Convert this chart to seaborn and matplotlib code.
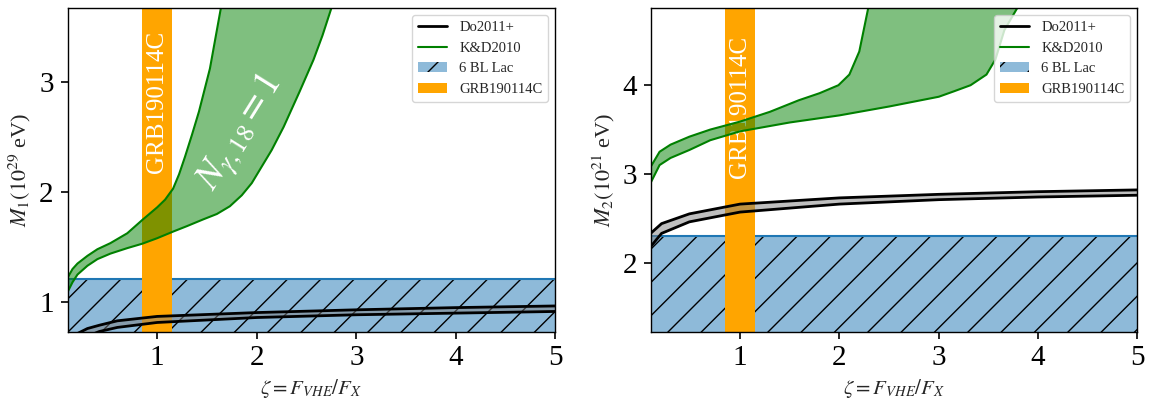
import matplotlib
matplotlib.use("Agg")
import matplotlib.pyplot as plt
from matplotlib.lines import Line2D
from matplotlib.patches import Patch
import numpy as np
import seaborn as sns

# ---- data ----
zeta_lim = [0.1, 5.0]
grb_zeta = [0.85, 1.15]

# panel 1 : M1 (10^29 eV)
m1_ylim = [0.733, 3.67]
m1_blac = 1.21
m1_kd_up_x = [0.1, 0.15, 0.2, 0.3, 0.4, 0.53, 0.7, 0.85, 1.0, 1.08, 1.16, 1.22, 1.28, 1.35,
              1.42, 1.53, 1.64]
m1_kd_up_y = [1.22, 1.30, 1.35, 1.42, 1.48, 1.535, 1.625, 1.745, 1.86, 1.93, 2.03, 2.16, 2.32, 2.52,
              2.73, 3.12, 3.67]
m1_kd_lo_x = [0.1, 0.15, 0.2, 0.3, 0.4, 0.53, 0.7, 0.85, 1.0, 1.16, 1.3, 1.46, 1.6, 1.73,
              1.85, 1.95, 2.03, 2.15, 2.27, 2.43, 2.57, 2.66, 2.75]
m1_kd_lo_y = [1.09, 1.18, 1.25, 1.33, 1.39, 1.44, 1.49, 1.53, 1.58, 1.64, 1.69, 1.75, 1.80, 1.87,
              1.97, 2.08, 2.20, 2.38, 2.59, 2.91, 3.20, 3.42, 3.67]
m1_do_x = [0.2, 0.3, 0.42, 0.6, 1.0, 2.0, 3.0, 4.0, 5.0]
m1_do_up = [0.715, 0.76, 0.79, 0.83, 0.87, 0.905, 0.93, 0.95, 0.965]
m1_do_lo = [0.66, 0.69, 0.733, 0.77, 0.815, 0.86, 0.885, 0.90, 0.915]

# panel 2 : M2 (10^21 eV)
m2_ylim = [1.224, 4.87]
m2_blac = 2.30
m2_kd_up_x = [0.1, 0.19, 0.3, 0.49, 0.7, 1.0, 1.3, 1.59, 1.8, 1.99, 2.1, 2.2, 2.29]
m2_kd_up_y = [3.08, 3.25, 3.33, 3.42, 3.50, 3.59, 3.70, 3.83, 3.91, 4.0, 4.12, 4.38, 4.87]
m2_kd_lo_x = [0.1, 0.19, 0.3, 0.49, 0.7, 1.0, 1.5, 2.0, 2.5, 3.0, 3.15, 3.32, 3.48, 3.57, 3.66, 3.79]
m2_kd_lo_y = [2.90, 3.10, 3.18, 3.27, 3.38, 3.48, 3.58, 3.66, 3.76, 3.87, 3.93, 4.0, 4.12, 4.29, 4.62, 4.87]
m2_do_x = [0.1, 0.21, 0.49, 1.0, 2.0, 3.0, 4.0, 5.0]
m2_do_up = [2.33, 2.44, 2.55, 2.66, 2.73, 2.77, 2.80, 2.82]
m2_do_lo = [2.18, 2.33, 2.46, 2.57, 2.66, 2.71, 2.74, 2.76]

sns.set_style("ticks", {"axes.edgecolor": "black", "xtick.color": "black",
                        "ytick.color": "black"})
plt.rcParams["font.family"] = ["Liberation Serif", "DejaVu Serif"]
plt.rcParams["mathtext.fontset"] = "stix"

blue = "#1f77b4"
blue_fill = (0.122, 0.467, 0.706, 0.5)


def draw_panel(ax, ylim, blac, kd_up, kd_lo, do_x, do_up, do_lo, grb_y, ylabel, note=False):
    # 6 BL Lac hatched band
    ax.axhspan(ylim[0] - 1, blac, facecolor=blue_fill, edgecolor="black",
               hatch="/", lw=0, zorder=1)
    ax.axhline(blac, color=blue, lw=1.5, zorder=1.5)

    # GRB190114C stripe
    ax.axvspan(grb_zeta[0], grb_zeta[1], color="orange", lw=0, zorder=2)
    ax.text(np.mean(grb_zeta), grb_y, "GRB190114C", color="white", rotation=90,
            ha="center", va="center", fontsize=18, zorder=3)

    # K&D2010 band
    px = np.concatenate([kd_up[0], kd_lo[0][::-1]])
    py = np.concatenate([kd_up[1], kd_lo[1][::-1]])
    ax.fill(px, py, color="green", alpha=0.5, lw=0, zorder=4)
    sns.lineplot(x=kd_up[0], y=kd_up[1], color="green", lw=1.5, ax=ax, zorder=4.5)
    sns.lineplot(x=kd_lo[0], y=kd_lo[1], color="green", lw=1.5, ax=ax, zorder=4.5)

    # Do2011+ band
    ax.fill_between(do_x, do_lo, do_up, color="gray", alpha=0.5, lw=0, zorder=5)
    sns.lineplot(x=do_x, y=do_up, color="black", lw=2, ax=ax, zorder=5.5)
    sns.lineplot(x=do_x, y=do_lo, color="black", lw=2, ax=ax, zorder=5.5)

    if note:
        ax.text(1.84, 2.53, r"$N_{\gamma,\mathit{18}}=\mathit{1}$", color="white",
                rotation=58, ha="center", va="center", fontsize=27, zorder=6)

    ax.set_xlim(zeta_lim)
    ax.set_ylim(ylim)
    ax.set_xticks([1, 2, 3, 4, 5])
    ax.tick_params(labelsize=21, length=5, width=1.2, pad=5)
    ax.set_xlabel(r"$\zeta = F_{VHE}/F_X$", fontsize=15)
    ax.set_ylabel(ylabel, fontsize=16)
    for sp in ax.spines.values():
        sp.set_linewidth(1.0)
        sp.set_zorder(10)

    handles = [Line2D([], [], color="black", lw=2),
               Line2D([], [], color="green", lw=1.5),
               Patch(facecolor=blue_fill, edgecolor="black", hatch="/", lw=0),
               Patch(facecolor="orange", lw=0)]
    labels = ["Do2011+", "K&D2010", "6 BL Lac", "GRB190114C"]
    leg = ax.legend(handles, labels, loc="upper right", fontsize=10.5)
    leg.set_zorder(20)


fig = plt.figure(figsize=(11.52, 4.01), dpi=100)
ax1 = fig.add_axes([0.0586, 0.1733, 0.4236, 0.8067])
ax2 = fig.add_axes([0.5648, 0.1733, 0.4226, 0.8067])

draw_panel(ax1, m1_ylim, m1_blac, (m1_kd_up_x, m1_kd_up_y), (m1_kd_lo_x, m1_kd_lo_y),
           m1_do_x, m1_do_up, m1_do_lo, 2.82, r"$M_1(10^{29}$ eV)", note=True)
ax1.set_yticks([1, 2, 3])

draw_panel(ax2, m2_ylim, m2_blac, (m2_kd_up_x, m2_kd_up_y), (m2_kd_lo_x, m2_kd_lo_y),
           m2_do_x, m2_do_up, m2_do_lo, 3.76, r"$M_2(10^{21}$ eV)")
ax2.set_yticks([2, 3, 4])

fig.savefig("out.png", dpi=100)
